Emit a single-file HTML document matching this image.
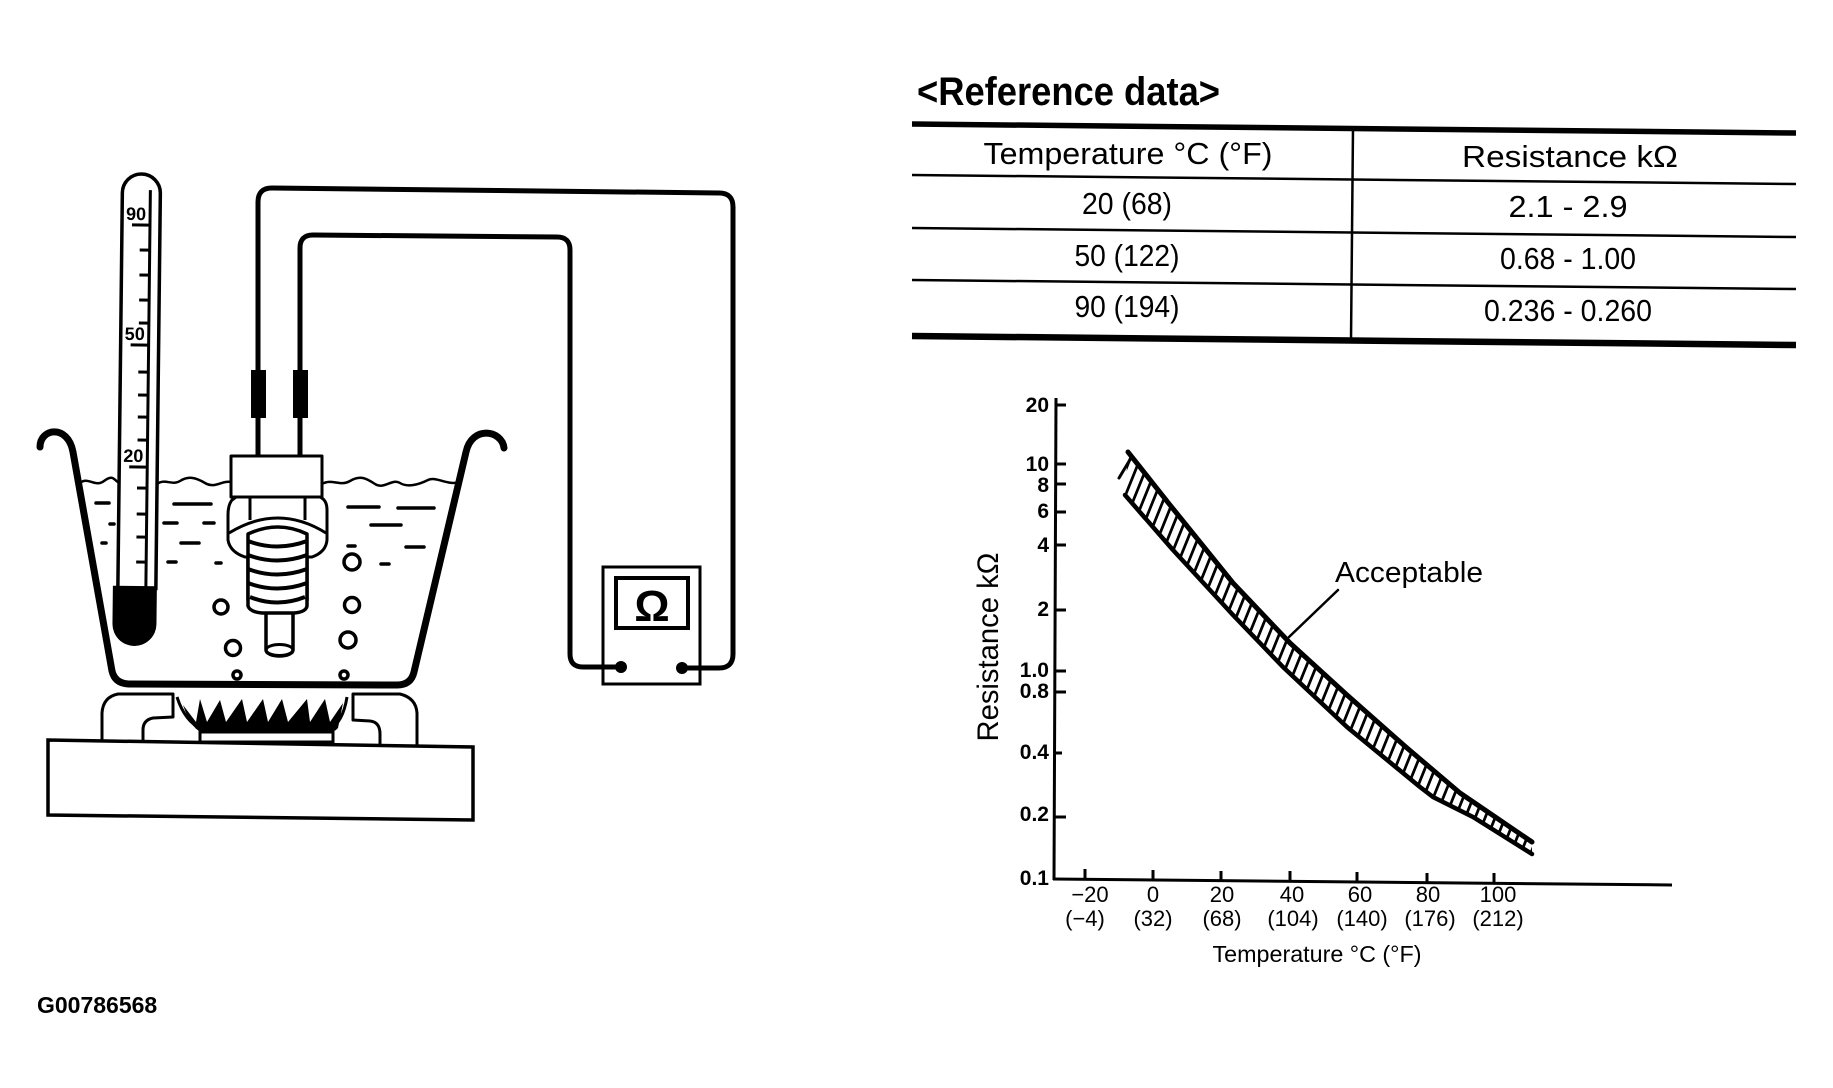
<!DOCTYPE html>
<html><head><meta charset="utf-8"><style>
html,body{margin:0;padding:0;background:#fff;}
svg{display:block;}
text{font-family:"Liberation Sans",Arial,Helvetica,sans-serif;fill:#000;}
</style></head><body>
<svg width="1833" height="1088" viewBox="0 0 1833 1088" xmlns="http://www.w3.org/2000/svg">
<defs>
<pattern id="h" width="10" height="10" patternUnits="userSpaceOnUse" patternTransform="skewX(-22)">
<rect x="4" y="0" width="3" height="10" fill="#000"/>
</pattern>
</defs>
<rect width="1833" height="1088" fill="#fff"/>

<!-- ===== LEFT ILLUSTRATION ===== -->
<g fill="none" stroke="#000" stroke-width="5" stroke-linejoin="round" stroke-linecap="round">
<path d="M258,456 L258,202 Q258,188 272,188 L719,193 Q733,193 733,207 L733,654 Q733,668 719,668 L682,668"/>
<path d="M300,456 L300,248 Q300,235 313,235 L557,237 Q570,237 570,250 L570,654 Q570,667 583,667 L621,667"/>
</g>
<rect x="251" y="370" width="15" height="48" fill="#000"/>
<rect x="293" y="370" width="15" height="48" fill="#000"/>
<rect x="603" y="567" width="97" height="117" fill="none" stroke="#000" stroke-width="3"/>
<rect x="616" y="578" width="72" height="50" fill="none" stroke="#000" stroke-width="4"/>
<text x="652" y="621" font-size="44" font-weight="bold" text-anchor="middle">Ω</text>
<path d="M603,667 L621,667 M700,668 L682,668" stroke="#000" stroke-width="5"/>
<circle cx="621" cy="667" r="6" fill="#000"/>
<circle cx="682" cy="668" r="6" fill="#000"/>

<g fill="#fff" stroke="#000" stroke-width="3" stroke-linejoin="round">
<path d="M102,742 L102,713 Q103,697 118,694 L173,694 L173,717 L153,718 Q143,720 143,730 L143,742 Z"/>
<path d="M353,694 L400,694 Q416,698 417,713 L417,746 L380,746 L380,734 Q380,722 370,721 L353,720 Z"/>
</g>
<path d="M177,697 Q185,722 202,729 L330,729 Q343,722 347,697" fill="none" stroke="#000" stroke-width="3"/>
<path d="M183,705 L196,722 L200,699 L207,722 L220,700 L226,722 L242,699 L247,722 L263,699 L268,722 L282,699 L288,722 L307,699 L310,722 L325,699 L330,722 L343,703 L338,728 Q334,733 326,733 L205,733 Q192,732 183,705 Z" fill="#000"/>
<rect x="200" y="732" width="133" height="10" fill="#fff" stroke="#000" stroke-width="3"/>
<path d="M48,740 L473,747 L473,820 L48,815 Z" fill="#fff" stroke="#000" stroke-width="3.5"/>

<path d="M40,447 C40,428 68,424 73,452 L112,671 Q115,684 130,684 L397,685 Q411,685 414,672 L466,452 C472,425 502,430 504,448" fill="none" stroke="#000" stroke-width="7" stroke-linecap="round" stroke-linejoin="round"/>
<g fill="none" stroke="#000" stroke-width="2.5">
<path d="M80,483 C88,476 95,488 104,481 S114,480 118,482"/>
<path d="M157,484 C165,478 172,486 180,481 S195,477 205,483 S222,480 231,482"/>
<path d="M322,484 C332,478 340,487 350,481 S366,478 375,484 S392,478 400,483 S420,484 428,480 S448,486 459,482"/>
</g>
<g stroke="#000" stroke-width="3.5" stroke-linecap="round">
<line x1="96" y1="503" x2="109" y2="503"/>
<line x1="174" y1="504" x2="211" y2="504"/>
<line x1="164" y1="523" x2="177" y2="523"/>
<line x1="204" y1="523" x2="214" y2="523"/>
<line x1="181" y1="543" x2="199" y2="543"/>
<line x1="102" y1="543" x2="106" y2="543"/>
<line x1="110" y1="524" x2="114" y2="524"/>
<line x1="168" y1="562" x2="176" y2="562"/>
<line x1="216" y1="563" x2="221" y2="563"/>
<line x1="348" y1="507" x2="379" y2="507"/>
<line x1="398" y1="508" x2="434" y2="508"/>
<line x1="371" y1="525" x2="401" y2="525"/>
<line x1="406" y1="547" x2="424" y2="547"/>
<line x1="381" y1="564" x2="389" y2="564"/>
<line x1="348" y1="546" x2="355" y2="546"/>
</g>
<g fill="#fff" stroke="#000" stroke-width="3.5">
<circle cx="221" cy="607" r="7"/>
<circle cx="233" cy="648" r="7.5"/>
<circle cx="237" cy="675" r="4"/>
<circle cx="352" cy="562" r="8"/>
<circle cx="352" cy="605" r="7.5"/>
<circle cx="348" cy="640" r="8"/>
<circle cx="344" cy="675" r="4"/>
</g>

<g stroke="#000" fill="#fff" stroke-linejoin="round">
<path d="M266,605 L266,650 A13.5,6 0 0 0 293,650 L293,605" stroke-width="3.5"/>
<ellipse cx="279.5" cy="650" rx="13.5" ry="5.5" stroke-width="3" fill="none"/>
<path d="M248,530 L248,600 Q250,610 262,612 L294,612 Q306,610 307,600 L307,530 Z" stroke-width="3.5"/>
<path d="M232,500 Q228,505 228,515 L228,540 Q230,552 245,557 L312,557 Q326,552 327,540 L327,510 Q327,500 320,497 L236,497 Z" stroke-width="3"/>
<path d="M250,497 L250,520 M305,497 L305,520" stroke-width="3" fill="none"/>
<path d="M229,533 Q278,503 326,533" stroke-width="3" fill="none"/>
<path d="M248,534 L248,606 Q250,612 262,613 L294,613 Q306,612 307,606 L307,534 Q278,520 248,534 Z" stroke-width="3.5"/>
<path d="M248,541 Q277,552 307,541 M248,555 Q277,566 307,555 M248,569 Q277,580 307,569 M248,583 Q277,594 307,583 M250,597 Q277,608 305,597" stroke-width="4" fill="none"/>
<rect x="231" y="456" width="91" height="41" stroke-width="3"/>
</g>

<g transform="rotate(0.65 140 400)">
<path d="M120,590 L120,193 A19,19 0 0 1 158,193 L158,590" fill="#fff" stroke="#000" stroke-width="3.5"/>
<path d="M115,586 H159 V624 A22,22 0 0 1 115,624 Z" fill="#000"/>
<line x1="148" y1="190" x2="148" y2="588" stroke="#000" stroke-width="3"/>
<g stroke="#000" stroke-width="3">
<line x1="138" y1="250" x2="148" y2="250"/>
<line x1="138" y1="275" x2="148" y2="275"/>
<line x1="138" y1="300" x2="148" y2="300"/>
<line x1="138" y1="323" x2="148" y2="323"/>
<line x1="138" y1="372" x2="148" y2="372"/>
<line x1="138" y1="395" x2="148" y2="395"/>
<line x1="138" y1="417" x2="148" y2="417"/>
<line x1="138" y1="440" x2="148" y2="440"/>
<line x1="138" y1="488" x2="148" y2="488"/>
<line x1="138" y1="514" x2="148" y2="514"/>
<line x1="138" y1="537" x2="148" y2="537"/>
<line x1="138" y1="562" x2="148" y2="562"/>
<line x1="130" y1="225" x2="148" y2="225"/>
<line x1="130" y1="345" x2="148" y2="345"/>
<line x1="130" y1="467" x2="148" y2="467"/>
</g>
<text x="124" y="220" font-size="18" font-weight="bold">90</text>
<text x="124" y="340" font-size="18" font-weight="bold">50</text>
<text x="124" y="462" font-size="18" font-weight="bold">20</text>
</g>

<text x="37" y="1013" font-size="23" font-weight="bold">G00786568</text>

<!-- ===== TABLE ===== -->
<text x="917" y="105" font-size="40" font-weight="bold" textLength="303" lengthAdjust="spacingAndGlyphs">&lt;Reference data&gt;</text>
<g stroke="#000">
<line x1="912" y1="124" x2="1796" y2="133" stroke-width="5.5"/>
<line x1="912" y1="175" x2="1796" y2="184" stroke-width="2.5"/>
<line x1="912" y1="228" x2="1796" y2="237" stroke-width="2.5"/>
<line x1="912" y1="280" x2="1796" y2="289" stroke-width="2.5"/>
<line x1="912" y1="336" x2="1796" y2="345" stroke-width="6.5"/>
<line x1="1353" y1="128" x2="1351" y2="340" stroke-width="2.5"/>
</g>
<g font-size="31" text-anchor="middle">
<text x="1128" y="164" textLength="289" lengthAdjust="spacingAndGlyphs">Temperature °C (°F)</text>
<text x="1570" y="167" textLength="216" lengthAdjust="spacingAndGlyphs">Resistance kΩ</text>
<text x="1127" y="214" textLength="90" lengthAdjust="spacingAndGlyphs">20 (68)</text>
<text x="1127" y="266" textLength="105" lengthAdjust="spacingAndGlyphs">50 (122)</text>
<text x="1127" y="317" textLength="105" lengthAdjust="spacingAndGlyphs">90 (194)</text>
<text x="1568" y="217" textLength="119" lengthAdjust="spacingAndGlyphs">2.1 - 2.9</text>
<text x="1568" y="269" textLength="136" lengthAdjust="spacingAndGlyphs">0.68 - 1.00</text>
<text x="1568" y="321" textLength="168" lengthAdjust="spacingAndGlyphs">0.236 - 0.260</text>
</g>

<!-- ===== CHART ===== -->
<g stroke="#000" stroke-width="3" fill="none">
<line x1="1056" y1="398" x2="1054" y2="880"/>
<line x1="1053" y1="879" x2="1672" y2="885"/>
<line x1="1055" y1="405" x2="1066" y2="405"/>
<line x1="1055" y1="464" x2="1066" y2="464"/>
<line x1="1055" y1="484" x2="1066" y2="484"/>
<line x1="1055" y1="512" x2="1066" y2="512"/>
<line x1="1055" y1="545" x2="1066" y2="545"/>
<line x1="1055" y1="610" x2="1066" y2="610"/>
<line x1="1055" y1="671" x2="1066" y2="671"/>
<line x1="1055" y1="692" x2="1066" y2="692"/>
<line x1="1055" y1="753" x2="1062" y2="753"/>
<line x1="1055" y1="817" x2="1066" y2="817"/>
<line x1="1085" y1="879" x2="1085" y2="869"/>
<line x1="1153" y1="880" x2="1153" y2="870"/>
<line x1="1221" y1="881" x2="1221" y2="871"/>
<line x1="1290" y1="881" x2="1290" y2="871"/>
<line x1="1357" y1="882" x2="1357" y2="872"/>
<line x1="1427" y1="883" x2="1427" y2="873"/>
<line x1="1494" y1="883" x2="1494" y2="873"/>
</g>
<g font-size="21" font-weight="bold" text-anchor="end">
<text x="1049" y="412">20</text>
<text x="1049" y="471">10</text>
<text x="1049" y="492">8</text>
<text x="1049" y="518">6</text>
<text x="1049" y="552">4</text>
<text x="1049" y="616">2</text>
<text x="1049" y="677">1.0</text>
<text x="1049" y="698">0.8</text>
<text x="1049" y="759">0.4</text>
<text x="1049" y="821">0.2</text>
<text x="1049" y="885">0.1</text>
</g>
<g font-size="22" text-anchor="middle">
<text x="1090" y="902">−20</text>
<text x="1153" y="902">0</text>
<text x="1222" y="902">20</text>
<text x="1292" y="902">40</text>
<text x="1360" y="902">60</text>
<text x="1428" y="902">80</text>
<text x="1498" y="902">100</text>
<text x="1085" y="926">(−4)</text>
<text x="1153" y="926">(32)</text>
<text x="1222" y="926">(68)</text>
<text x="1293" y="926">(104)</text>
<text x="1362" y="926">(140)</text>
<text x="1430" y="926">(176)</text>
<text x="1498" y="926">(212)</text>
</g>
<text x="1317" y="962" font-size="23" text-anchor="middle" textLength="209" lengthAdjust="spacingAndGlyphs">Temperature °C (°F)</text>
<text transform="translate(998,647) rotate(-90)" x="0" y="0" font-size="30" text-anchor="middle" textLength="189" lengthAdjust="spacingAndGlyphs">Resistance kΩ</text>

<path d="M1128,452 L1170,505 L1233,583 L1290,643 L1347,695 L1407,748 L1460,793 L1532,842 L1532,854 L1473,817 L1433,797 L1420,787 L1347,727 L1283,667 L1233,615 L1173,550 L1125,495 Z" fill="url(#h)"/>
<g fill="none" stroke="#000" stroke-linejoin="round" stroke-linecap="round">
<polyline points="1128,452 1170,505 1233,583 1290,643 1347,695 1407,748 1460,793 1532,842" stroke-width="5"/>
<polyline points="1125,495 1173,550 1233,615 1283,667 1347,727 1420,787 1433,797 1473,817 1532,854" stroke-width="4.5"/>
<line x1="1119" y1="478" x2="1131" y2="458" stroke-width="3"/>
<line x1="1289" y1="637" x2="1338" y2="590" stroke-width="2.5"/>
</g>
<text x="1335" y="582" font-size="29" textLength="148" lengthAdjust="spacingAndGlyphs">Acceptable</text>
</svg>
</body></html>
